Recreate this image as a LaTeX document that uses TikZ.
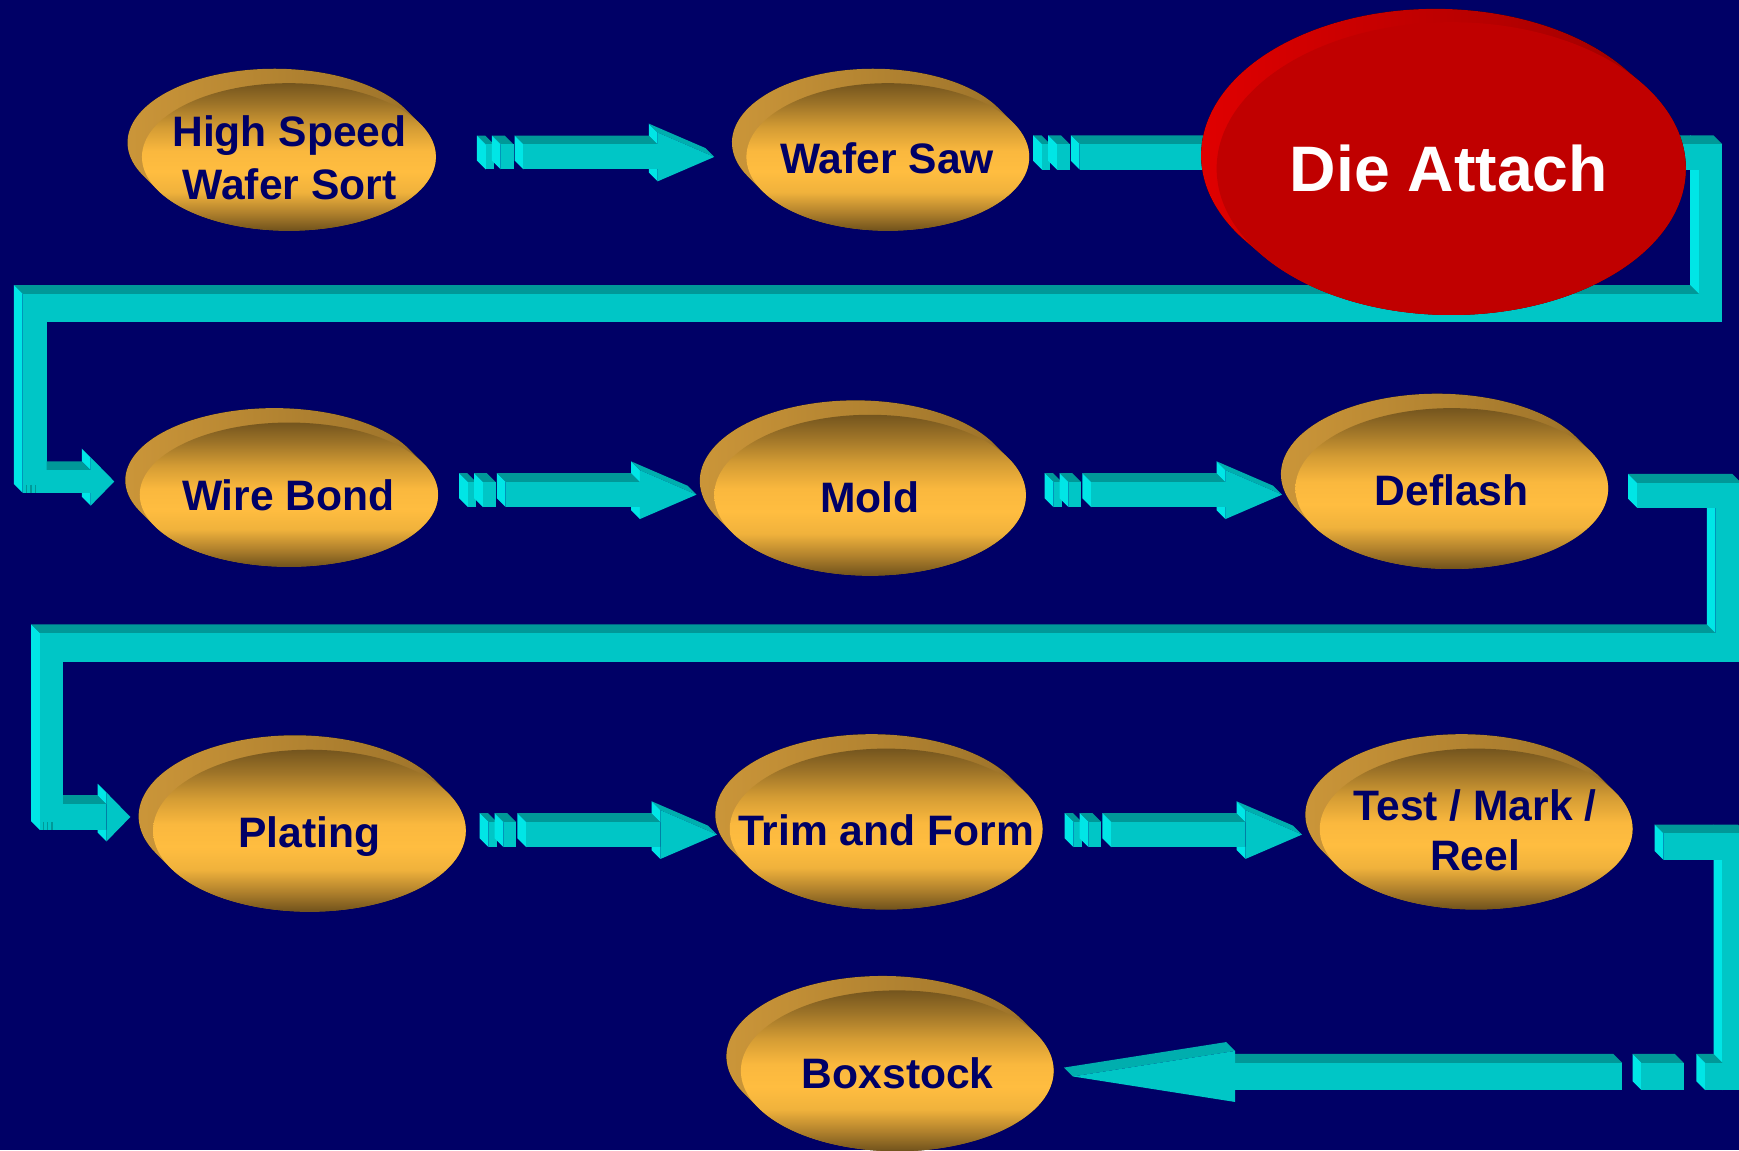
\documentclass[tikz,border=0pt]{standalone}
\usepackage{fontspec}
\setmainfont{Liberation Sans}
\usetikzlibrary{shapes.geometric}
\definecolor{bg}{RGB}{0,0,102}
\definecolor{cyF}{RGB}{0,198,198}
\definecolor{cyT}{RGB}{0,152,152}
\definecolor{cyL}{RGB}{0,230,230}
\definecolor{cyH}{RGB}{0,174,174}
\definecolor{gA}{RGB}{112,82,28}
\definecolor{gB}{RGB}{175,128,44}
\definecolor{gC}{RGB}{240,178,60}
\definecolor{gD}{RGB}{255,189,64}
\definecolor{gE}{RGB}{250,184,62}
\definecolor{gF}{RGB}{212,156,52}
\definecolor{gG}{RGB}{158,116,40}
\definecolor{gH}{RGB}{116,85,30}
\definecolor{gsL}{RGB}{206,152,58}
\definecolor{gsR}{RGB}{150,110,40}
\definecolor{rF}{RGB}{192,0,0}
\definecolor{rL}{RGB}{228,0,0}
\definecolor{rR}{RGB}{150,0,0}
\pgfdeclareverticalshading{goldface}{100bp}{color(0bp)=(gA); color(25bp)=(gA); color(31bp)=(gB); color(38bp)=(gC); color(45bp)=(gD); color(52bp)=(gE); color(60bp)=(gF); color(68bp)=(gG); color(75bp)=(gH); color(100bp)=(gH)}

% front rectangle [x1,x2]x[y1,y2] with its top face and left face
\newcommand\BoxF[4]{%
  \fill[cyT] (#1,#3) -- (#2,#3) -- ({#2-8},{#3-8}) -- ({#1-8},{#3-8}) -- cycle;
  \fill[cyL] (#1,#3) -- (#1,#4) -- ({#1-8},{#4-8}) -- ({#1-8},{#3-8}) -- cycle;
  \fill[cyF] (#1,#3) rectangle (#2,#4);}
% right-pointing head: base x, centre y, shaft half height, head half height, tip x
\newcommand\RHead[5]{%
  \pgfmathsetmacro\hb{#1}\pgfmathsetmacro\hc{#2}\pgfmathsetmacro\hs{#3}\pgfmathsetmacro\hh{#4}\pgfmathsetmacro\hp{#5}%
  \fill[cyL] (\hb,{\hc+\hs}) -- (\hb,{\hc+\hh}) -- ({\hb-8},{\hc+\hh-8}) -- ({\hb-8},{\hc+\hs-8}) -- cycle;
  \fill[cyF] ({\hb-9},{\hc-\hs}) rectangle (\hb,{\hc+\hs});
  \fill[cyL] (\hb,{\hc-\hs}) -- (\hb,{\hc-\hh}) -- ({\hb-8},{\hc-\hh-8}) -- ({\hb-8},{\hc-\hs-8}) -- cycle;
  \fill[cyH] (\hb,{\hc-\hh}) -- (\hp,\hc) -- ({\hp-8},{\hc-8}) -- ({\hb-8},{\hc-\hh-8}) -- cycle;
  \fill[cyF] (\hb,{\hc-\hh}) -- (\hp,\hc) -- (\hb,{\hc+\hh}) -- cycle;}
% left-pointing head: base x, centre y, head half height, tip x
\newcommand\LHead[4]{%
  \pgfmathsetmacro\hb{#1}\pgfmathsetmacro\hc{#2}\pgfmathsetmacro\hh{#3}\pgfmathsetmacro\hp{#4}%
  \fill[cyH] (\hb,{\hc-\hh}) -- (\hp,\hc) -- ({\hp-8},{\hc-8}) -- ({\hb-8},{\hc-\hh-8}) -- cycle;
  \fill[cyF] (\hb,{\hc-\hh}) -- (\hp,\hc) -- (\hb,{\hc+\hh}) -- cycle;}
% straight arrow with striped tail: tail x, centre y
\newcommand\RArrow[2]{%
  \pgfmathsetmacro\ya{#2-11.3}\pgfmathsetmacro\yb{#2+11.3}%
  \pgfmathsetmacro\xA{#1+8}\pgfmathsetmacro\xB{#1+15.5}\pgfmathsetmacro\xC{#1+21.5}%
  \pgfmathsetmacro\xD{#1+33}\pgfmathsetmacro\xE{#1+42}\pgfmathsetmacro\xF{#1+163}\pgfmathsetmacro\xG{#1+214}%
  \BoxF{\xA}{\xB}{\ya}{\yb}
  \BoxF{\xC}{\xD}{\ya}{\yb}
  \BoxF{\xE}{\xF}{\ya}{\yb}
  \RHead{\xF}{#2}{11.3}{22}{\xG}}
% extruded side of a disc: cx cy rx ry dx dy leftcolour rightcolour
\newcommand\DiscSide[8]{%
  \pgfmathsetmacro\dA{atan((#4*#5)/(#3*#6))}%
  \pgfmathsetmacro\bX{#1-#5}\pgfmathsetmacro\bY{#2-#6}%
  \fill[left color=#7, right color=#8]
    ({\bX+#3*cos(-\dA)},{\bY+#4*sin(-\dA)})
    arc [start angle=-\dA, end angle=-180-\dA, x radius=#3, y radius=#4]
    -- ({#1+#3*cos(180-\dA)},{#2+#4*sin(180-\dA)})
    arc [start angle=180-\dA, end angle=-\dA, x radius=#3, y radius=#4]
    -- cycle;}
% gold disc: name, cx, cy, rx, ry
\newcommand\GoldDisc[5]{%
  \DiscSide{#2}{#3}{#4}{#5}{13}{13}{gsL}{gsR}
  \node[ellipse, inner sep=0pt, outer sep=0pt, minimum width=#4pt, minimum height=#5pt, shading=goldface] (#1) at (#2,#3) {};}

\tikzset{
  lbl/.style={text=bg, font=\fontsize{19.2}{23}\selectfont\bfseries, inner sep=0pt, anchor=base},
  dalbl/.style={text=white, font=\fontsize{29}{34}\selectfont\bfseries, inner sep=0pt, anchor=base}
}

\begin{document}
\begin{tikzpicture}[x=0.5pt, y=-0.5pt]
\useasboundingbox (0,0) rectangle (1568,1037);
\clip (0,0) rectangle (1568,1037);
\fill[bg] (0,0) rectangle (1568,1037);

% ---------- row 1 straight arrow
\RArrow{430}{141.5}

% ---------- connector Wafer Saw -> Die Attach -> Wire Bond
\fill[cyL] (1532,130) -- (1532,290) -- (1524,282) -- (1524,122) -- cycle;
\fill[cyF] (1532,130) rectangle (1553,290);
\BoxF{939.5}{947}{130}{153}
\BoxF{953}{964.5}{130}{153}
\BoxF{973.5}{1553}{130}{153}
\fill[cyT] (20.5,265) -- (1532,265) -- (1524,257) -- (12.5,257) -- cycle;
\fill[cyF] (20.5,265) rectangle (1532,290);
\fill[cyL] (20.5,265) -- (20.5,444.5) -- (12.5,436.5) -- (12.5,257) -- cycle;
\fill[cyF] (20.5,265) rectangle (42,444.5);
\fill[cyT] (42,424) -- (81.8,424) -- (73.8,416) -- (42,416) -- cycle;
\fill[cyF] (20.5,424) rectangle (81.8,444.5);
\RHead{81.8}{434.2}{10.3}{21.7}{103}
\draw[cyT, line width=0.6] (24,437) -- (24,444.5) (28,437) -- (28,444.5) (32,437) -- (32,444.5);

% ---------- row 2 straight arrows
\RArrow{414}{446}
\RArrow{942}{446}

% ---------- connector Deflash -> Plating
\fill[cyL] (1547,435.3) -- (1547,596.7) -- (1539,588.7) -- (1539,427.3) -- cycle;
\fill[cyF] (1547,435.3) rectangle (1570,596.7);
\BoxF{1476}{1570}{435.3}{457.7}
\fill[cyT] (36,571) -- (1547,571) -- (1539,563) -- (28,563) -- cycle;
\fill[cyF] (36,571) rectangle (1547,596.7);
\fill[cyL] (36,571) -- (36,748.4) -- (28,740.4) -- (28,563) -- cycle;
\fill[cyF] (36,571) rectangle (57,748.4);
\fill[cyT] (57,725) -- (96,725) -- (88,717) -- (57,717) -- cycle;
\fill[cyF] (36,725) rectangle (96,748.4);
\RHead{96}{736.7}{11.7}{22}{117.5}
\draw[cyT, line width=0.6] (39,741) -- (39,748.4) (43,741) -- (43,748.4) (47,741) -- (47,748.4);

% ---------- row 3 straight arrows
\RArrow{432.5}{752.5}
\RArrow{960}{752.5}

% ---------- connector Test/Mark/Reel -> Boxstock
\fill[cyL] (1553,751.5) -- (1553,983) -- (1545,975) -- (1545,743.5) -- cycle;
\fill[cyF] (1553,751.5) rectangle (1575,983);
\BoxF{1500}{1575}{751.5}{775.5}
\BoxF{1537.6}{1553}{958.3}{982.9}
\BoxF{1480}{1518}{958.3}{982.9}
\BoxF{1113.6}{1462.6}{958.3}{982.9}
\LHead{1113.6}{970.6}{23}{967.3}

% ---------- discs
\GoldDisc{hs}{260.5}{141.5}{132.5}{66.5}
\GoldDisc{ws}{800.5}{141.5}{127.5}{66.5}
\DiscSide{1308.5}{152}{211.5}{132}{14}{12}{rL}{rR}
\node[ellipse, inner sep=0pt, outer sep=0pt, minimum width=211.5pt, minimum height=132pt, fill=rF] (da) at (1308.5,152) {};
\GoldDisc{wb}{260.5}{446}{134.5}{65}
\GoldDisc{mo}{784.5}{446.5}{140.5}{72.5}
\GoldDisc{df}{1309}{440.5}{141}{72.5}
\GoldDisc{pl}{279}{749}{141}{73}
\GoldDisc{tf}{799}{747.5}{141}{72.5}
\GoldDisc{tm}{1331}{747.5}{141}{72.5}
\GoldDisc{bx}{809}{965.5}{141}{72.5}

% ---------- labels
\node[lbl] (hs1) at (261,132) {High Speed};
\node[lbl] (hs2) at (261,179.5) {Wafer Sort};
\node[lbl] (wst) at (800,156) {Wafer Saw};
\node[dalbl] (dat) at (1306.5,173) {Die Attach};
\node[lbl] (wbt) at (260,460) {Wire Bond};
\node[lbl] (mot) at (784.5,462) {Mold};
\node[lbl] (dft) at (1309,455.5) {Deflash};
\node[lbl] (plt) at (279,764) {Plating};
\node[lbl] (tft) at (799,762) {Trim and Form};
\node[lbl] (tm1) at (1330,739.5) {Test / Mark /};
\node[lbl] (tm2) at (1330,785) {Reel};
\node[lbl] (bxt) at (809.5,981.5) {Boxstock};
\end{tikzpicture}
\end{document}
